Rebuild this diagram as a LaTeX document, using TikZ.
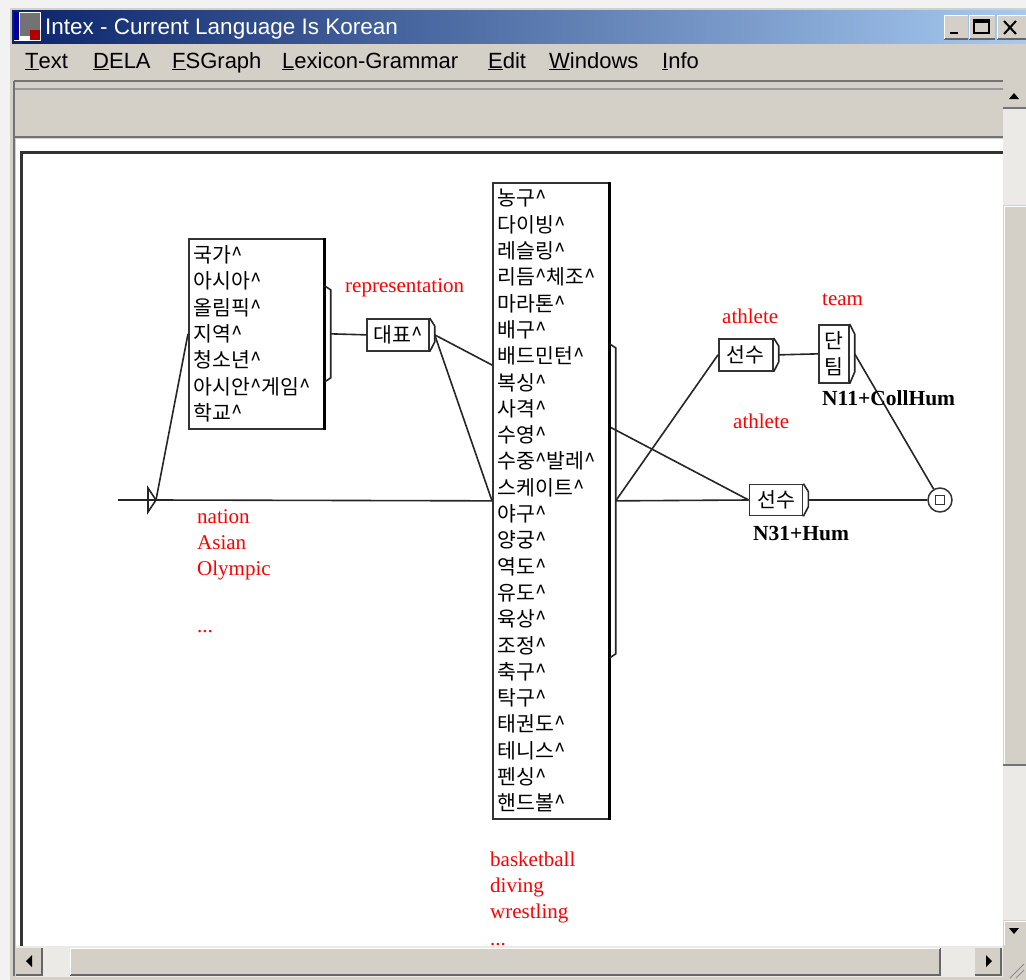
\documentclass[tikz,border=0pt]{standalone}
\usepackage{fontspec}
\setmainfont{Liberation Serif}
\newfontfamily\uifont{Liberation Sans}
\newfontfamily\kr{Noto Sans CJK KR}
\newcommand\crt{\textasciicircum}

\definecolor{wingray}{HTML}{D4D0C8}
\definecolor{trackc}{HTML}{ECEAE6}
\definecolor{titleA}{HTML}{0A246A}
\definecolor{titleB}{HTML}{A6CAF0}

\tikzset{
  state/.style = {draw = black!80, line width = 1.7pt, fill = white, inner sep = 3pt,
                  font = \kr\fontsize{20.5}{26.3}\selectfont},
  lst/.style   = {state, inner sep = 5pt, align = left},
  link/.style  = {line width = 1.6pt, black!85},
  rlbl/.style  = {text = red, inner sep = 0pt, anchor = base west, font = \fontsize{21}{24}\selectfont},
  blbl/.style  = {inner sep = 0pt, anchor = base west, font = \bfseries\fontsize{21.5}{24}\selectfont},
  menu/.style  = {inner sep = 0pt, anchor = base west, font = \uifont\fontsize{22}{24}\selectfont}
}

\begin{document}
\begin{tikzpicture}[x = 1pt, y = -1pt]
        \useasboundingbox (0,0) rectangle (1026,980);

        % window
        \fill [black!5] (0,0) rectangle (1026,980);
        \fill [wingray] (10,8) rectangle (1026,980);
        \shade [left color = titleA, right color = titleB] (12,10) rectangle (1026,43);
        \fill [white] (14,12) rectangle (41,41);
        \fill [black!55] (20,13) rectangle (40,36);
        \fill [red!70!black] (30,30) rectangle (40,40);
        \fill [blue!60!black] (14,12) rectangle (19,40);
        \node (wtitle) [inner sep = 0pt, anchor = base west, text = white,
                        font = \uifont\fontsize{22.5}{26}\selectfont] at (45,34) {Intex - Current Language Is Korean};

        \foreach \bx/\bw in {944/24, 969/26, 997/29} {
            \fill [wingray] (\bx,15) rectangle ++(\bw,24);
            \draw [black!60, line width = 1.5pt] (\bx,39) -- ++(\bw,0);
            \draw [white, line width = 1pt] (\bx,39) -- (\bx,15) -- ++(\bw,0);
        }
        \draw [line width = 2.5pt] (950,33) -- (958,33);
        \draw [line width = 1.5pt] (974,20) rectangle (989,33);
        \draw [line width = 3pt] (974,21) -- (989,21);
        \draw [line width = 2pt] (1004,21) -- (1016,34) (1016,21) -- (1004,34);

        % menu
        \node (mtext) [menu] at (25,68)  {\underline{T}ext};
        \node (mdela) [menu] at (93,68)  {\underline{D}ELA};
        \node (mfsg)  [menu] at (172,68) {\underline{F}SGraph};
        \node (mlex)  [menu] at (282,68) {\underline{L}exicon-Grammar};
        \node (medit) [menu] at (488,68) {\underline{E}dit};
        \node (mwin)  [menu] at (549,68) {\underline{W}indows};
        \node (minfo) [menu] at (662,68) {\underline{I}nfo};

        % toolbar and canvas
        \draw [black!55, line width = 2.5pt] (14,81) -- (1003,81);
        \draw [black!40, line width = 2pt] (14,89) -- (1003,89);
        \draw [black!55, line width = 2.5pt] (14,137) -- (1003,137);
        \fill [white] (16,139) rectangle (1003,946);
        \draw [black!80, line width = 3pt] (21.5,946) -- (21.5,152.5) -- (1003,152.5);
        \draw [black!55, line width = 2pt] (14,81) -- (14,976);

        % scrollbars
        \fill [trackc] (1003,85) rectangle (1026,946);
        \fill [wingray] (1003,85) rectangle (1026,108);
        \draw [black!55, line width = 1.5pt] (1003,108) -- (1026,108);
        \fill (1009,99) -- (1019,99) -- (1014,93) -- cycle;
        \fill [wingray] (1003,205) rectangle (1026,765);
        \draw [white, line width = 1pt] (1004,765) -- (1004,206) -- (1026,206);
        \draw [black!55, line width = 2pt] (1003,765) -- (1026,765);
        \fill [wingray] (1003,920) rectangle (1026,946);
        \draw [white, line width = 1pt] (1004,945) -- (1004,921) -- (1026,921);
        \fill (1009,928) -- (1019,928) -- (1014,934) -- cycle;

        \fill [trackc] (16,946) rectangle (1003,977);
        \fill [wingray] (16,948) rectangle (42,975);
        \draw [black!60, line width = 1.5pt] (16,975) -- (42,975) -- (42,948);
        \fill (26,961) -- (32,955) -- (32,967) -- cycle;
        \fill [wingray] (70,948) rectangle (940,975);
        \draw [black!60, line width = 1.5pt] (70,975) -- (940,975) -- (940,948);
        \draw [white, line width = 1pt] (70,975) -- (70,948) -- (940,948);
        \fill [wingray] (975,948) rectangle (1001,975);
        \draw [black!60, line width = 1.5pt] (975,975) -- (1001,975) -- (1001,948);
        \fill (992,961) -- (986,955) -- (986,967) -- cycle;
        \fill [wingray] (1003,946) rectangle (1026,980);
        \draw [black!45, line width = 1pt] (1010,978) -- (1024,964) (1016,978) -- (1024,970);

        % graph
        \coordinate (start) at (118,500);
        \coordinate (ini) at (156,500);

        \node (nat) [lst, text width = 125pt, minimum height = 190pt, anchor = north west] at (188,238)
            {국가\crt\\아시아\crt\\올림픽\crt\\지역\crt\\청소년\crt\\아시안\crt 게임\crt\\학교\crt};
        \node (rep)  [state, minimum width = 62pt, minimum height = 32pt, anchor = north west] at (366,318) {대표\crt};
        \node (ath1) [state, minimum width = 54pt, minimum height = 32pt, anchor = north west] at (718,338) {선수};
        \node (team) [state, minimum width = 30pt, minimum height = 58pt, align = center, anchor = north west] at (818,324) {단\\팀};
        \node (ath2) [state, minimum width = 53pt, minimum height = 31pt] at (776,500) {선수};

        \draw [link] ([xshift = 5pt]rep.east) -- (ath2.west);
        \draw [link] (start) -- (ini);

        \node (sport) [lst, text width = 106pt, minimum height = 636pt, anchor = north west] at (492,182)
            {농구\crt\\다이빙\crt\\레슬링\crt\\리듬\crt 체조\crt\\마라톤\crt\\배구\crt\\배드민턴\crt\\복싱\crt\\사격\crt\\수영\crt\\수중\crt 발레\crt\\스케이트\crt\\야구\crt\\양궁\crt\\역도\crt\\유도\crt\\육상\crt\\조정\crt\\축구\crt\\탁구\crt\\태권도\crt\\테니스\crt\\펜싱\crt\\핸드볼\crt};

        \node (fin) [circle, draw = black!80, line width = 1.5pt, fill = white, minimum size = 24pt, inner sep = 0pt] at (940,500) {};
        \node (finsq) [draw = black!80, line width = 1.2pt, minimum size = 9pt, inner sep = 0pt] at (fin.center) {};

        % outputs
        \draw [line width = 2.5pt] (nat.north east) -- (nat.south east);
        \draw [line width = 2.5pt] (sport.north east) -- (sport.south east);
        \draw [link] ([yshift = 48pt]nat.east) -- ++(6,4) -- ++(0,88) -- ([yshift = -48pt]nat.east);
        \draw [link] ([yshift = 157pt]sport.east) -- ++(6,4) -- ++(0,306) -- ([yshift = -157pt]sport.east);
        \draw [link] (rep.north east) -- ++(5,8) -- ++(0,16) -- (rep.south east);
        \draw [link] (ath1.north east) -- ++(5,8) -- ++(0,16) -- (ath1.south east);
        \draw [link] (team.north east) -- ++(5,10) -- ++(0,38) -- (team.south east);
        \draw [link] (ath2.north east) -- ++(5,8) -- ++(0,15) -- (ath2.south east);

        % transitions
        \draw [link] (ini) -- ++(-8,-12) -- ++(0,24) -- cycle;
        \draw [link] (ini) -- (sport.west);
        \draw [link] (ini) -- (nat.west);
        \draw [link] ([xshift = 6pt]nat.east) -- (rep.west);
        \draw [link] ([xshift = 5pt]rep.east) -- (sport.west);
        \draw [link] ([xshift = 6pt]sport.east) -- (ath1.west);
        \draw [link] ([xshift = 6pt]sport.east) -- (ath2.west);
        \draw [link] ([xshift = 5pt]ath1.east) -- (team.west);
        \draw [link] ([xshift = 5pt]team.east) -- (fin);
        \draw [link] ([xshift = 5pt]ath2.east) -- (fin);

        % labels
        \node (lrep)  [rlbl] at (345,292) {representation};
        \node (lath1) [rlbl] at (722,323) {athlete};
        \node (lteam) [rlbl] at (822,305) {team};
        \node (lath2) [rlbl] at (733,428) {athlete};
        \node (lcoll) [blbl] at (822,405) {N11+CollHum};
        \node (lhum)  [blbl] at (753,540) {N31+Hum};

        \foreach \w [count = \i] in {nation, Asian, Olympic}
            \node (lnat\i) [rlbl] at (197,497+26*\i) {\w};
        \node (lnatd) [rlbl] at (197,632) {...};
        \foreach \w [count = \i] in {basketball, diving, wrestling}
            \node (lsp\i) [rlbl] at (490,840+26*\i) {\w};
        \node (lspd) [rlbl] at (490,945) {...};
    \end{tikzpicture}
\end{document}
